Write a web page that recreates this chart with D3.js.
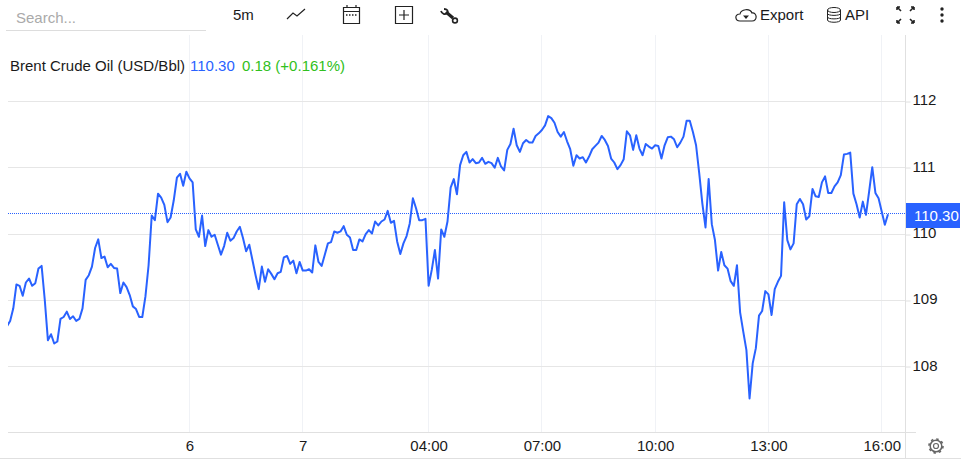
<!DOCTYPE html>
<html>
<head>
<meta charset="utf-8">
<script src="https://cdn.jsdelivr.net/npm/d3@7"></script>
<style>
  html, body { margin: 0; padding: 0; background: #fff; }
  svg { display: block; font-family: "Liberation Sans", Arial, sans-serif; }
</style>
</head>
<body>
<svg width="961" height="460"></svg>
<script>
// 5 minute closes
const prices = [
  108.61,108.69,108.88,109.24,109.22,109.07,109.27,109.33,109.22,109.26,
  109.48,109.52,109.01,108.40,108.49,108.35,108.38,108.72,108.75,108.83,
  108.72,108.76,108.69,108.72,108.88,109.31,109.38,109.51,109.79,109.92,
  109.64,109.66,109.50,109.55,109.49,109.48,109.11,109.27,109.20,109.08,
  108.91,108.87,108.75,108.75,109.06,109.53,110.28,110.21,110.61,110.55,
  110.44,110.18,110.25,110.51,110.85,110.91,110.73,110.94,110.84,110.78,
  110.07,109.96,110.28,109.82,110.06,109.96,109.99,109.84,109.69,109.82,
  110.02,109.90,109.94,110.04,110.11,109.94,109.74,109.84,109.61,109.38,
  109.17,109.51,109.28,109.47,109.40,109.32,109.41,109.43,109.65,109.67,
  109.55,109.60,109.41,109.58,109.45,109.45,109.47,109.42,109.83,109.58,
  109.52,109.69,109.86,109.88,110.04,110.02,110.04,110.12,109.99,109.95,
  109.76,109.76,109.92,109.89,110.00,110.06,110.01,110.19,110.13,110.19,
  110.22,110.35,110.17,110.20,109.89,109.70,109.86,109.97,110.16,110.54,
  110.39,110.21,110.21,110.23,109.22,109.46,109.76,109.33,110.07,109.96,
  110.19,110.70,110.83,110.60,111.04,111.19,111.24,111.08,111.13,111.07,
  111.08,111.15,111.06,111.09,111.07,111.00,111.15,111.02,110.96,111.27,
  111.36,111.59,111.34,111.24,111.37,111.42,111.38,111.38,111.48,111.52,
  111.57,111.64,111.78,111.75,111.68,111.54,111.47,111.54,111.40,111.28,
  111.03,111.19,111.14,111.16,111.08,111.17,111.28,111.33,111.38,111.48,
  111.42,111.33,111.14,111.08,110.98,111.04,111.13,111.55,111.49,111.27,
  111.49,111.29,111.19,111.36,111.32,111.29,111.34,111.33,111.14,111.34,
  111.46,111.47,111.43,111.31,111.38,111.47,111.71,111.71,111.54,111.34,
  110.92,110.46,110.10,110.83,110.15,109.91,109.45,109.73,109.53,109.48,
  109.29,109.22,109.53,108.82,108.53,108.25,107.52,108.05,108.28,108.77,
  108.84,109.14,109.09,108.78,109.17,109.28,109.37,110.48,109.91,109.77,
  109.86,110.45,110.53,110.45,110.22,110.27,110.68,110.57,110.56,110.78,
  110.87,110.62,110.62,110.72,110.78,110.89,111.20,111.21,111.23,110.61,
  110.45,110.25,110.49,110.29,110.64,111.01,110.62,110.54,110.34,110.14,
  110.30
];
const priceTicks = [108, 109, 110, 111, 112];
const timeTickIndex = [58, 94, 134, 170, 206, 242, 278];
const timeTickLabels = ["6", "7", "04:00", "07:00", "10:00", "13:00", "16:00"];

const lineColor = "#2962ff";
const gridH = "#e6e6e6";
const gridV = "#f0f2f6";
const axisColor = "#e0e0e0";
const textColor = "#1a1a1a";
const upColor = "#30c020";
const fontSize = 15;

const svg = d3.select("svg");

// CONSTANTS
const plot = { left: 8, right: 905, top: 35, bottom: 433 };

// SCALES
const xScale = d3.scaleLinear().domain([0, prices.length - 1]).range([7, 888]);
const yScale = d3.scaleLinear().domain([107, 112]).range([433, 101.5]);

// vertical grid first, it sits under everything
svg.append("g")
  .selectAll("line")
  .data(timeTickIndex)
  .join("line")
  .attr("x1", d => Math.floor(xScale(d)) + 0.5)
  .attr("x2", d => Math.floor(xScale(d)) + 0.5)
  .attr("y1", plot.top)
  .attr("y2", plot.bottom)
  .attr("stroke", gridV);

svg.append("g")
  .selectAll("line")
  .data(priceTicks)
  .join("line")
  .attr("x1", plot.left)
  .attr("x2", plot.right)
  .attr("y1", d => Math.floor(yScale(d)) + 0.5)
  .attr("y2", d => Math.floor(yScale(d)) + 0.5)
  .attr("stroke", gridH);

svg.append("defs")
  .append("clipPath")
  .attr("id", "plot-clip")
  .append("rect")
  .attr("x", plot.left)
  .attr("y", plot.top)
  .attr("width", plot.right - plot.left)
  .attr("height", plot.bottom - plot.top);

const line = d3.line()
  .x((d, i) => xScale(i))
  .y(d => yScale(d));

svg.append("path")
  .datum(prices)
  .attr("clip-path", "url(#plot-clip)")
  .attr("d", line)
  .attr("fill", "none")
  .attr("stroke", lineColor)
  .attr("stroke-width", 2)
  .attr("stroke-linejoin", "round");

// last price dotted line
const lastPrice = prices[prices.length - 1];
const lastY = Math.floor(yScale(lastPrice) - 0.5) + 0.5;
svg.append("line")
  .attr("x1", plot.left)
  .attr("x2", plot.right)
  .attr("y1", lastY)
  .attr("y2", lastY)
  .attr("stroke", lineColor)
  .attr("stroke-dasharray", "1,1");

// Axes
const yAxis = d3.axisRight(yScale)
  .tickValues(priceTicks)
  .tickSize(5)
  .tickPadding(2)
  .tickFormat(d3.format("d"));

const yG = svg.append("g")
  .attr("transform", `translate(${plot.right + 0.5},0)`)
  .call(yAxis);
yG.select(".domain").remove();
yG.selectAll(".tick line")
  .attr("stroke", axisColor)
  .attr("y1", d => Math.floor(yScale(d)) + 0.5 - yScale(d))
  .attr("y2", d => Math.floor(yScale(d)) + 0.5 - yScale(d));
yG.selectAll("text")
  .attr("y", -1.5)
  .attr("font-family", '"Liberation Sans", Arial, sans-serif')
  .attr("font-size", fontSize)
  .attr("fill", textColor);

const xAxis = d3.axisBottom(xScale)
  .tickValues(timeTickIndex)
  .tickSize(0)
  .tickPadding(7)
  .tickFormat((d, i) => timeTickLabels[i]);

const xG = svg.append("g")
  .attr("transform", `translate(0,${plot.bottom})`)
  .call(xAxis);
xG.select(".domain").remove();
xG.selectAll("text")
  .attr("font-family", '"Liberation Sans", Arial, sans-serif')
  .attr("font-size", fontSize)
  .attr("fill", textColor);

// frame lines
svg.append("line").attr("x1", 8).attr("x2", 916).attr("y1", 432.5).attr("y2", 432.5).attr("stroke", axisColor);
svg.append("line").attr("x1", 0).attr("x2", 961).attr("y1", 458.5).attr("y2", 458.5).attr("stroke", axisColor);
svg.append("line").attr("x1", 905.5).attr("x2", 905.5).attr("y1", 35).attr("y2", 458).attr("stroke", axisColor);

// price tag
svg.append("rect")
  .attr("x", 906)
  .attr("y", 203)
  .attr("width", 54)
  .attr("height", 25)
  .attr("fill", lineColor);
svg.append("text")
  .attr("x", 914)
  .attr("y", 221)
  .attr("font-size", fontSize)
  .attr("fill", "#fff")
  .text(lastPrice.toFixed(2));

// Legend
const legend = svg.append("text").attr("x", 10).attr("y", 71).attr("font-size", fontSize);
legend.append("tspan").attr("fill", textColor).text("Brent Crude Oil (USD/Bbl)");
legend.append("tspan").attr("x", 190).attr("fill", lineColor).text("110.30");
legend.append("tspan").attr("x", 242).attr("fill", upColor).text("0.18 (+0.161%)");

// Toolbar
svg.append("text").attr("x", 16).attr("y", 23).attr("font-size", fontSize).attr("fill", "#aaa").text("Search...");
svg.append("line").attr("x1", 6).attr("x2", 206).attr("y1", 30.5).attr("y2", 30.5).attr("stroke", "#ddd");
svg.append("text").attr("x", 233).attr("y", 20).attr("font-size", fontSize).attr("fill", textColor).text("5m");
svg.append("text").attr("x", 760).attr("y", 20).attr("font-size", fontSize).attr("fill", textColor).text("Export");
svg.append("text").attr("x", 845).attr("y", 20).attr("font-size", fontSize).attr("fill", textColor).text("API");

const icon = d => svg.append("path")
  .attr("d", d)
  .attr("fill", "none")
  .attr("stroke", "#222")
  .attr("stroke-width", 1.2);

// line chart icon
icon("M287 19L293 13L297 16L305 9");
// calendar
icon("M343.5 7.5H359.5V23.5H343.5ZM343.5 11.5H359.5M347 5V8M356 5V8");
icon("M346 15H357").attr("stroke-dasharray", "1.5,1.5").attr("stroke-width", 1.5);
// add box
icon("M395.5 6.5H412.5V23.5H395.5ZM404 10V20M399 15H409");
// wrench
icon("M446 12L453 18").attr("stroke-width", 3.2);
icon("M441 11C442 14 445 15 447 13C449 11 447 9 444 9").attr("stroke-width", 1.8);
svg.append("circle").attr("cx", 455).attr("cy", 20.5).attr("r", 2.4).attr("fill", "none").attr("stroke", "#222").attr("stroke-width", 1.6);
// cloud
icon("M740 21C735 21 734 14 740 14C741 9 750 8 752 13C757 12 758 21 752 21Z");
svg.append("path").attr("d", "M743 15.5H749L746 19Z").attr("fill", "#222");
// database
svg.append("ellipse").attr("cx", 834).attr("cy", 10).attr("rx", 6.5).attr("ry", 2.5).attr("fill", "none").attr("stroke", "#222");
icon("M827.5 10V20C827.5 23 840.5 23 840.5 20V10M827.5 13.5C827.5 16 840.5 16 840.5 13.5M827.5 17C827.5 19.5 840.5 19.5 840.5 17").attr("stroke-width", 1);
// fullscreen
icon("M897 7H900M897 7V10M897 7L901 11M914 7H911M914 7V10M914 7L910 11M897 23H900M897 23V20M897 23L901 19M914 23H911M914 23V20M914 23L910 19").attr("stroke-width", 1.6);
// dots
svg.append("g")
  .selectAll("circle")
  .data([9, 15, 21])
  .join("circle")
  .attr("cx", 942)
  .attr("cy", d => d)
  .attr("r", 1.7)
  .attr("fill", "#222");

// gear
svg.append("circle").attr("cx", 936).attr("cy", 446).attr("r", 2.5).attr("fill", "none").attr("stroke", "#666").attr("stroke-width", 1.2);
svg.append("circle").attr("cx", 936).attr("cy", 446).attr("r", 5.8).attr("fill", "none").attr("stroke", "#666").attr("stroke-width", 1.5);
svg.append("circle").attr("cx", 936).attr("cy", 446).attr("r", 7).attr("fill", "none").attr("stroke", "#666").attr("stroke-width", 1.6).attr("stroke-dasharray", "2.5,3");
</script>
</body>
</html>
